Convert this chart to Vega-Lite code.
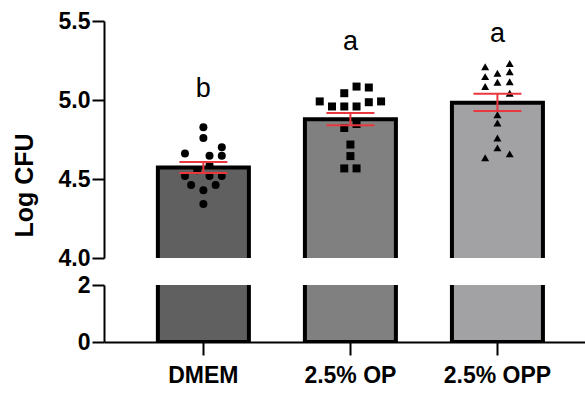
{
  "$schema": "https://vega.github.io/schema/vega-lite/v6.json",
  "padding": {"left": 12, "top": 10, "right": 0, "bottom": 0},
  "background": "white",
  "config": {
    "view": {"stroke": null},
    "axis": {
      "domainColor": "black", "tickColor": "black", "labelColor": "black", "titleColor": "black",
      "domainWidth": 2, "tickWidth": 2, "grid": false,
      "labelFont": "Liberation Sans", "titleFont": "Liberation Sans",
      "labelFontWeight": "bold", "titleFontWeight": "bold"
    }
  },
  "datasets": {
    "bars": [
      {"group": "DMEM", "mean": 4.572, "lo": 4.538, "hi": 4.607},
      {"group": "2.5% OP", "mean": 4.878, "lo": 4.840, "hi": 4.918},
      {"group": "2.5% OPP", "mean": 4.982, "lo": 4.930, "hi": 5.040}
    ],
    "letters": [
      {"group": "DMEM", "label": "b", "pos": 5.022},
      {"group": "2.5% OP", "label": "a", "pos": 5.318},
      {"group": "2.5% OPP", "label": "a", "pos": 5.368}
    ],
    "points": [
      {"group": "DMEM", "value": 4.827, "slot": 0},
      {"group": "DMEM", "value": 4.760, "slot": 0},
      {"group": "DMEM", "value": 4.662, "slot": -3},
      {"group": "DMEM", "value": 4.701, "slot": 3},
      {"group": "DMEM", "value": 4.647, "slot": 1},
      {"group": "DMEM", "value": 4.647, "slot": 3},
      {"group": "DMEM", "value": 4.588, "slot": 1},
      {"group": "DMEM", "value": 4.555, "slot": -1},
      {"group": "DMEM", "value": 4.519, "slot": -3},
      {"group": "DMEM", "value": 4.519, "slot": 1},
      {"group": "DMEM", "value": 4.519, "slot": 3},
      {"group": "DMEM", "value": 4.462, "slot": -2},
      {"group": "DMEM", "value": 4.462, "slot": 2},
      {"group": "DMEM", "value": 4.429, "slot": 0},
      {"group": "DMEM", "value": 4.341, "slot": 0},
      {"group": "2.5% OP", "value": 5.085, "slot": 1},
      {"group": "2.5% OP", "value": 5.079, "slot": 3},
      {"group": "2.5% OP", "value": 5.043, "slot": -1},
      {"group": "2.5% OP", "value": 4.991, "slot": -5},
      {"group": "2.5% OP", "value": 4.986, "slot": 3},
      {"group": "2.5% OP", "value": 4.991, "slot": 5},
      {"group": "2.5% OP", "value": 4.959, "slot": -3},
      {"group": "2.5% OP", "value": 4.959, "slot": -1},
      {"group": "2.5% OP", "value": 4.959, "slot": 1},
      {"group": "2.5% OP", "value": 4.823, "slot": -1},
      {"group": "2.5% OP", "value": 4.848, "slot": 1},
      {"group": "2.5% OP", "value": 4.718, "slot": 0},
      {"group": "2.5% OP", "value": 4.645, "slot": 0},
      {"group": "2.5% OP", "value": 4.567, "slot": -1},
      {"group": "2.5% OP", "value": 4.567, "slot": 1},
      {"group": "2.5% OPP", "value": 5.231, "slot": 2},
      {"group": "2.5% OPP", "value": 5.211, "slot": -2},
      {"group": "2.5% OPP", "value": 5.169, "slot": 0},
      {"group": "2.5% OPP", "value": 5.179, "slot": 2},
      {"group": "2.5% OPP", "value": 5.148, "slot": -2},
      {"group": "2.5% OPP", "value": 5.112, "slot": 0},
      {"group": "2.5% OPP", "value": 5.116, "slot": 2},
      {"group": "2.5% OPP", "value": 5.085, "slot": -2},
      {"group": "2.5% OPP", "value": 5.043, "slot": 2},
      {"group": "2.5% OPP", "value": 4.907, "slot": 0},
      {"group": "2.5% OPP", "value": 4.854, "slot": 0},
      {"group": "2.5% OPP", "value": 4.760, "slot": 0},
      {"group": "2.5% OPP", "value": 4.697, "slot": 0},
      {"group": "2.5% OPP", "value": 4.659, "slot": 2},
      {"group": "2.5% OPP", "value": 4.634, "slot": -2}
    ]
  },
  "spacing": 4,
  "vconcat": [
    {
      "width": 484,
      "height": 237,
      "encoding": {
        "x": {"field": "group", "type": "nominal", "sort": ["DMEM", "2.5% OP", "2.5% OPP"],
              "scale": {"type": "band", "paddingInner": 0.374, "paddingOuter": 0.333, "align": 0.545}, "axis": null}
      },
      "layer": [
        {
          "data": {"name": "bars"},
          "mark": {"type": "bar", "clip": true, "stroke": "black", "strokeWidth": 4, "width": 91},
          "encoding": {
            "y": {"field": "mean", "type": "quantitative",
                  "scale": {"domain": [4, 5.5], "nice": false, "zero": false},
                  "axis": {"values": [4, 4.5, 5, 5.5], "format": ".1f", "tickSize": 12, "labelPadding": 2,
                           "labelFontSize": 23, "title": "Log CFU", "titleFontSize": 25,
                           "titleX": -67, "titleY": 164, "titleBaseline": "bottom"}},
            "y2": {"datum": 0},
            "color": {"field": "group", "type": "nominal",
                      "scale": {"domain": ["DMEM", "2.5% OP", "2.5% OPP"], "range": ["#606060", "#808080", "#a2a1a4"]},
                      "legend": null}
          }
        },
        {
          "data": {"name": "points"},
          "mark": {"type": "point", "filled": true, "color": "black", "opacity": 1, "size": 64},
          "encoding": {
            "y": {"field": "value", "type": "quantitative"},
            "xOffset": {"field": "slot", "type": "quantitative", "scale": {"domain": [-7.5, 7.5]}},
            "shape": {"field": "group", "type": "nominal",
                      "scale": {"domain": ["DMEM", "2.5% OP", "2.5% OPP"], "range": ["circle", "square", "triangle-up"]},
                      "legend": null}
          }
        },
        {
          "data": {"name": "bars"},
          "mark": {"type": "rule", "color": "#e8383d", "strokeWidth": 2},
          "encoding": {
            "y": {"field": "lo", "type": "quantitative"},
            "y2": {"field": "hi"}
          }
        },
        {
          "data": {"name": "bars"},
          "mark": {"type": "tick", "color": "#e8383d", "thickness": 2, "size": 48, "orient": "horizontal", "opacity": 1},
          "encoding": {"y": {"field": "lo", "type": "quantitative"}}
        },
        {
          "data": {"name": "bars"},
          "mark": {"type": "tick", "color": "#e8383d", "thickness": 2, "size": 48, "orient": "horizontal", "opacity": 1},
          "encoding": {"y": {"field": "hi", "type": "quantitative"}}
        },
        {
          "data": {"name": "letters"},
          "mark": {"type": "text", "font": "Liberation Sans", "fontSize": 27, "baseline": "alphabetic", "color": "black"},
          "encoding": {
            "y": {"field": "pos", "type": "quantitative"},
            "text": {"field": "label"}
          }
        }
      ]
    },
    {
      "width": 484,
      "height": 57,
      "data": {"name": "bars"},
      "mark": {"type": "bar", "clip": true, "stroke": "black", "strokeWidth": 4, "width": 91},
      "encoding": {
        "x": {"field": "group", "type": "nominal", "sort": ["DMEM", "2.5% OP", "2.5% OPP"],
              "scale": {"type": "band", "paddingInner": 0.374, "paddingOuter": 0.333, "align": 0.545},
              "axis": {"title": null, "labelAngle": 0, "tickSize": 13, "labelPadding": 9, "labelFontSize": 23}},
        "y": {"field": "mean", "type": "quantitative",
              "scale": {"domain": [0, 2], "nice": false},
              "axis": {"values": [0, 2], "format": "d", "tickSize": 12, "labelPadding": 2, "labelFontSize": 23, "title": null}},
        "y2": {"datum": 0},
        "color": {"field": "group", "type": "nominal",
                  "scale": {"domain": ["DMEM", "2.5% OP", "2.5% OPP"], "range": ["#606060", "#808080", "#a2a1a4"]},
                  "legend": null}
      }
    }
  ]
}
